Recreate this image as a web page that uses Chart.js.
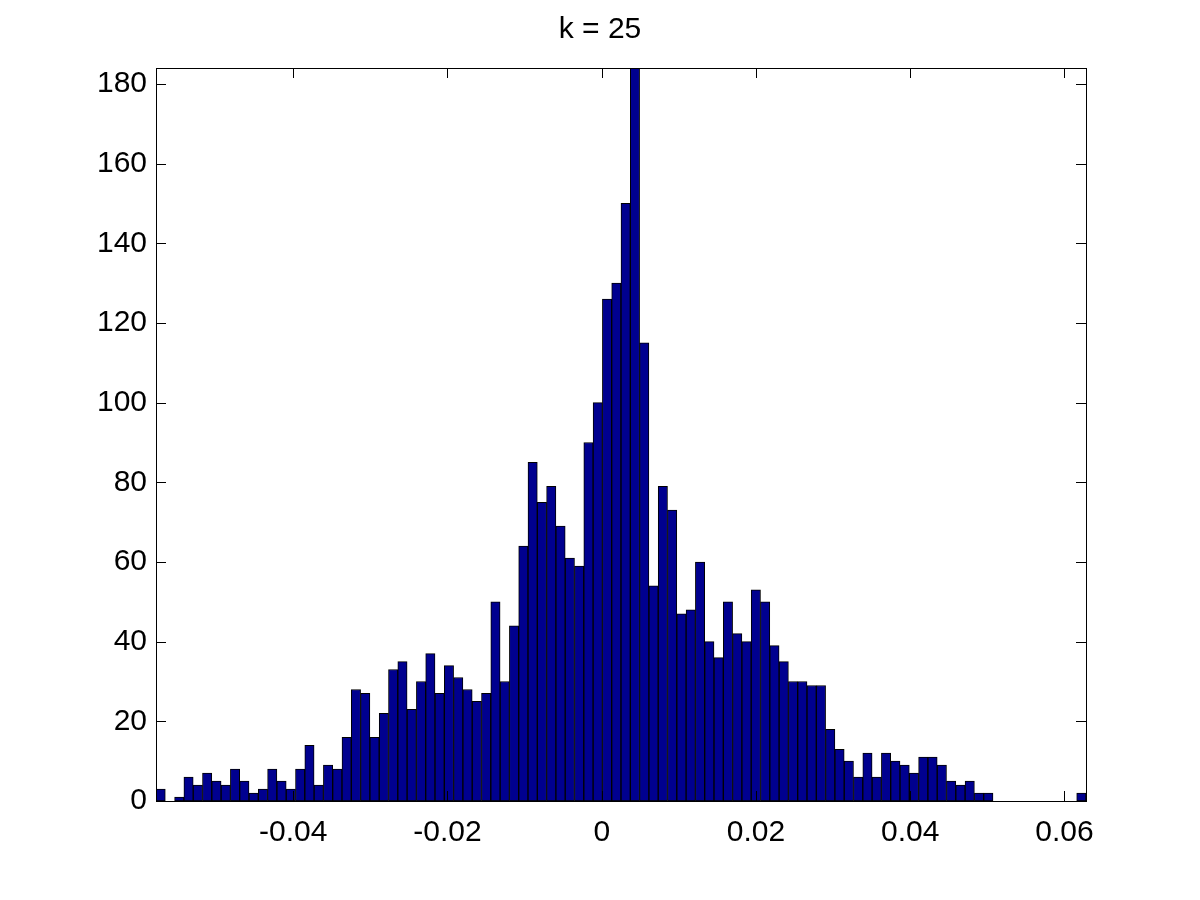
<!DOCTYPE html>
<html>
<head>
<meta charset="utf-8">
<title>k = 25</title>
<script src="https://cdn.jsdelivr.net/npm/chart.js@4/dist/chart.umd.min.js"></script>
<style>
    body { margin: 0; background: #fff; }
    #wrap { width: 1200px; height: 900px; }
</style>
</head>
<body>
<div id="wrap"><canvas id="hist-chart" width="1200" height="900"></canvas></div>
<script>
// histogram counts, 100 bins
const counts = [
    3, 0, 1, 6, 4, 7, 5, 4, 8, 5,
    2, 3, 8, 5, 3, 8, 14, 4, 9, 8,
    16, 28, 27, 16, 22, 33, 35, 23, 30, 37,
    27, 34, 31, 28, 25, 27, 50, 30, 44, 64,
    85, 75, 79, 69, 61, 59, 90, 100, 126, 130,
    150, 184, 115, 54, 79, 73, 47, 48, 60, 40,
    36, 50, 42, 40, 53, 50, 39, 35, 30, 30,
    29, 29, 18, 13, 10, 6, 12, 6, 12, 10,
    9, 7, 11, 11, 9, 5, 4, 5, 2, 2,
    0, 0, 0, 0, 0, 0, 0, 0, 0, 2
];
// data range (first and last bin edge)
const binMin = -0.0578;
const binMax = 0.0628;
const xTicks = [-0.04, -0.02, 0, 0.02, 0.04, 0.06];
const xTickLabels = ['-0.04', '-0.02', '0', '0.02', '0.04', '0.06'];
const yTicks = [0, 20, 40, 60, 80, 100, 120, 140, 160, 180];
const yMax = 184;

const binWidth = (binMax - binMin) / counts.length;
const binCenters = counts.map((c, i) => binMin + (i + 0.5) * binWidth);

const tickFont = { family: "'Liberation Sans', Arial, Helvetica, sans-serif", size: 30 };

// matlab style box with inward tick marks on all four sides
const boxTicks = {
    id: 'boxTicks',
    afterDatasetsDraw(chart) {
        const { ctx, chartArea: a, scales } = chart;
        const len = 10;
        ctx.save();
        ctx.strokeStyle = '#000';
        ctx.lineWidth = 1;
        ctx.beginPath();
        scales.x.ticks.forEach(t => {
            let px = Math.round(scales.x.getPixelForValue(t.value)) + 0.5;
            ctx.moveTo(px, a.bottom);
            ctx.lineTo(px, a.bottom - len);
            ctx.moveTo(px, a.top);
            ctx.lineTo(px, a.top + len);
        });
        scales.y.ticks.forEach(t => {
            let py = Math.round(scales.y.getPixelForValue(t.value)) + 0.5;
            ctx.moveTo(a.left, py);
            ctx.lineTo(a.left + len, py);
            ctx.moveTo(a.right, py);
            ctx.lineTo(a.right - len, py);
        });
        ctx.stroke();
        ctx.strokeRect(Math.round(a.left) + 0.5, Math.round(a.top) + 0.5, Math.round(a.width), Math.round(a.height));
        ctx.restore();
    }
};

const ctx = document.getElementById('hist-chart').getContext('2d');
const histChart = new Chart(ctx, {
    type: 'bar',
    data: {
        datasets: [{
            data: binCenters.map((x, i) => ({ x: x, y: counts[i] })),
            backgroundColor: '#00008f',
            borderColor: '#000',
            borderWidth: 1,
            borderSkipped: false,
            barPercentage: 1,
            categoryPercentage: 1
        }]
    },
    options: {
        responsive: false,
        animation: false,
        layout: { padding: 0 },
        scales: {
            x: {
                type: 'linear',
                min: binMin,
                max: binMax,
                offset: false,
                afterBuildTicks: axis => { axis.ticks = xTicks.map(v => ({ value: v })); },
                afterFit: axis => { axis.height = 99; },
                grid: { display: false, drawTicks: false },
                border: { display: false },
                ticks: {
                    color: '#000',
                    font: tickFont,
                    padding: 14,
                    maxRotation: 0,
                    autoSkip: false,
                    callback: (v) => xTickLabels[xTicks.indexOf(v)] ?? ''
                }
            },
            y: {
                min: 0,
                max: yMax,
                afterBuildTicks: axis => { axis.ticks = yTicks.map(v => ({ value: v })); },
                afterFit: axis => { axis.width = 156; },
                grid: { display: false, drawTicks: false },
                border: { display: false },
                ticks: {
                    color: '#000',
                    font: tickFont,
                    padding: 9,
                    autoSkip: false
                }
            },
            // empty right axis, only keeps the right margin so the title stays centred on the page
            yRight: {
                position: 'right',
                afterFit: axis => { axis.width = 114; },
                grid: { display: false, drawTicks: false },
                border: { display: false },
                ticks: { display: false }
            }
        },
        plugins: {
            legend: { display: false },
            tooltip: { enabled: false },
            title: {
                display: true,
                text: 'k = 25',
                color: '#000',
                font: { family: "'Liberation Sans', Arial, Helvetica, sans-serif", size: 30, weight: 'normal', lineHeight: 1.2 },
                padding: { top: 12, bottom: 20 }
            }
        }
    },
    plugins: [boxTicks]
});
</script>
</body>
</html>
